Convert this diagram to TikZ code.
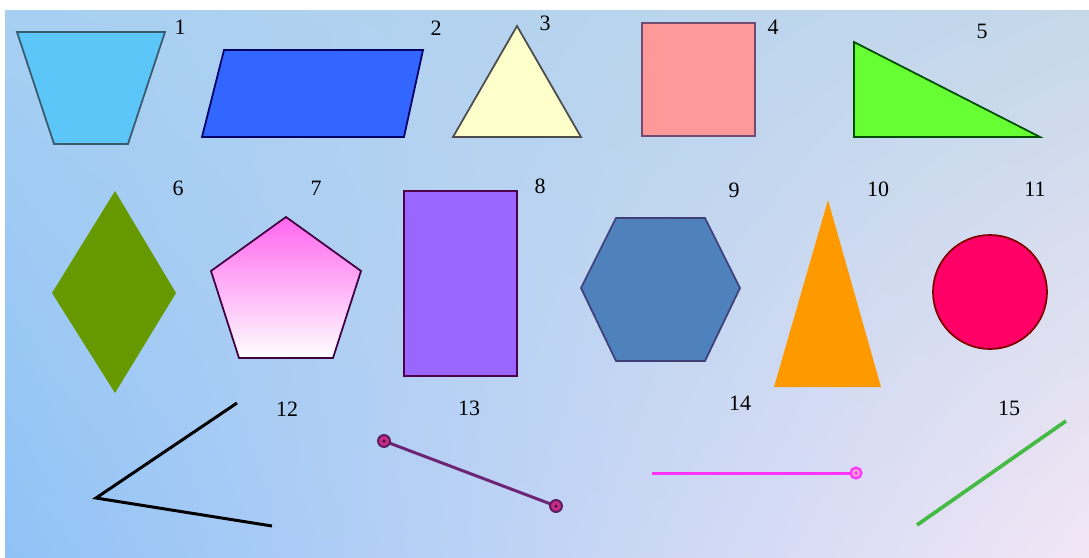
\documentclass[tikz,border=0pt]{standalone}
\usepackage{fontspec}
\setmainfont{Liberation Serif}
\usetikzlibrary{shadings}

\definecolor{bgUL}{HTML}{A6CFF2}
\definecolor{bgUR}{HTML}{C6D8EA}
\definecolor{bgLL}{HTML}{90C2F6}
\definecolor{bgLR}{HTML}{F3E6F5}
\definecolor{trapfill}{HTML}{5BC6F7}
\definecolor{trapline}{HTML}{3C5A6E}
\definecolor{parafill}{HTML}{3366FF}
\definecolor{trifill}{HTML}{FFFFCC}
\definecolor{squarefill}{HTML}{FF9999}
\definecolor{rightfill}{HTML}{66FF33}
\definecolor{rhombfill}{HTML}{669900}
\definecolor{pentfill}{HTML}{FF66EE}
\definecolor{rectfill}{HTML}{9966FF}
\definecolor{hexfill}{HTML}{4F81BD}
\definecolor{isofill}{HTML}{FF9900}
\definecolor{circfill}{HTML}{FF0066}
\definecolor{segpurple}{HTML}{6E2475}
\definecolor{segmagenta}{HTML}{FF33FF}
\definecolor{seggreen}{HTML}{44BB44}

\tikzset{
  lbl/.style={font=\fontsize{12.5}{14}\selectfont, inner sep=0pt},
  shapeline/.style={line width=1pt, line join=miter},
  segline/.style={line width=1.7pt}
}

\begin{document}
\begin{tikzpicture}[x=0.02cm, y=-0.02cm]

    %% =========================================================
    %% CANVAS — pixel grid, (0,0) top-left, (1089,558) bottom-right
    %% =========================================================
    \useasboundingbox (0,0) rectangle (1089,558);
    \fill[white] (0,0) rectangle (1089,558);
    \shade[upper left=bgUL, upper right=bgUR, lower left=bgLL, lower right=bgLR]
      (5,10) rectangle (1089,558);

    %% =========================================================
    %% TOP ROW: shapes 1 - 5
    %% =========================================================
    % 1 trapezoid
    \filldraw[shapeline, fill=trapfill, draw=trapline]
      (17,32) -- (165,32) -- (128,144) -- (54,144) -- cycle;
    % 2 parallelogram
    \filldraw[shapeline, fill=parafill, draw=blue!40!black]
      (224,50) -- (423,50) -- (404,137) -- (202,137) -- cycle;
    % 3 equilateral triangle
    \filldraw[shapeline, fill=trifill, draw=black!70]
      (517,26) -- (581,137) -- (453,137) -- cycle;
    % 4 square
    \filldraw[shapeline, fill=squarefill, draw=violet!40!black!70]
      (642,23) rectangle (755,136);
    % 5 right triangle
    \filldraw[shapeline, fill=rightfill, draw=green!30!black]
      (854,42) -- (1040,137) -- (854,137) -- cycle;

    %% =========================================================
    %% MIDDLE ROW: shapes 6 - 11
    %% =========================================================
    % 6 rhombus (no outline)
    \fill[rhombfill] (115,191) -- (176,293) -- (115,393) -- (52,293) -- cycle;
    % 7 pentagon, pink to white
    \shade[shapeline, top color=pentfill, bottom color=white, draw=violet!50!black]
      (286,217) -- (361,271) -- (333,358) -- (239,358) -- (211,271) -- cycle;
    % 8 rectangle
    \filldraw[shapeline, fill=rectfill, draw=violet!60!black]
      (404,191) rectangle (517,376);
    % 9 hexagon
    \filldraw[shapeline, fill=hexfill, draw=blue!30!black!75]
      (581,288) -- (616,218) -- (705,218) -- (740,288) -- (705,361) -- (616,361) -- cycle;
    % 10 isosceles triangle (no outline)
    \fill[isofill] (828,200) -- (881,387) -- (774,387) -- cycle;
    % 11 circle
    \filldraw[shapeline, fill=circfill, draw=red!50!black]
      (990,292) circle[radius=1.14cm];

    %% =========================================================
    %% BOTTOM ROW: lines 12 - 15
    %% =========================================================
    % 12 angle
    \draw[segline, black, line join=miter] (237,403) -- (96,498) -- (272,526);
    % 13 segment with two end points
    \draw[segline, segpurple] (384,441) -- (556,506);
    \foreach \px/\py in {384/441, 556/506}{
      \filldraw[line width=1.1pt, fill=magenta!60!violet, draw=segpurple!80!black]
        (\px,\py) circle[radius=0.12cm];
      \fill[segpurple!60!black] (\px,\py) circle[radius=0.035cm];
    }
    % 14 ray with one end point
    \draw[segline, segmagenta] (652,473) -- (856,473);
    \filldraw[line width=1.2pt, fill=magenta!40, draw=segmagenta]
      (856,473) circle[radius=0.11cm];
    \fill[segmagenta] (856,473) circle[radius=0.035cm];
    % 15 straight line
    \draw[line width=2.1pt, seggreen] (917,525) -- (1066,421);

    %% LABELS
    \foreach \n/\px/\py in {1/180/27, 2/436/28, 3/545/23, 4/773/27, 5/982/31,
                            6/178/188, 7/316/188, 8/540/186, 9/734/190,
                            10/878/189, 11/1035/189,
                            12/287/409, 13/469/408, 14/740/403, 15/1009/408}{
      \node[lbl] (l\n) at (\px,\py) {\n};
    }

\end{tikzpicture}
\end{document}
